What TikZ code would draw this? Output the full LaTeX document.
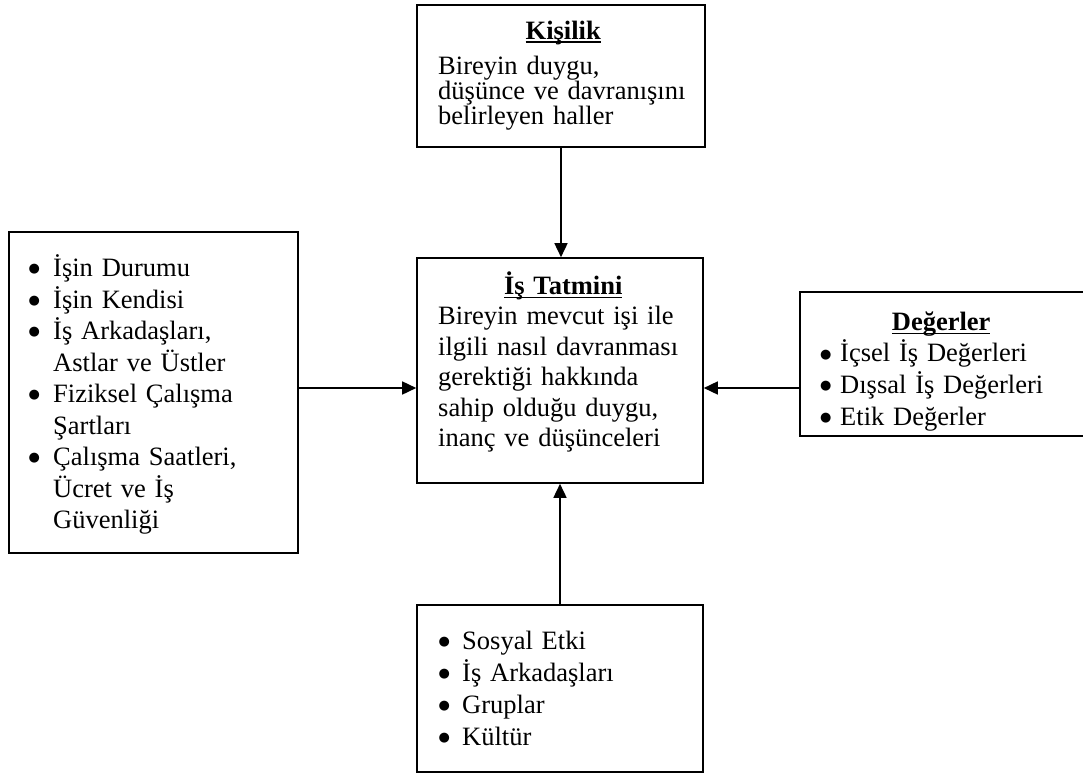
\documentclass[tikz,border=0pt]{standalone}
\usepackage{fontspec}
\setmainfont{Liberation Serif}
\newfontfamily\dejavu{DejaVu Sans}
\usetikzlibrary{arrows.meta}
\newcommand\fs{\rule{0pt}{25pt}}
\newcommand\bul{\raisebox{3.8pt}{\dejavu\fontsize{13}{13}\selectfont ●}}
\newcommand\bitem[2]{\par\noindent\hangindent=#1\hangafter=1\makebox[#1][l]{\bul}#2\par}
\newcommand\ulx[1]{\setbox0\hbox{#1}\rlap{\rule[-4pt]{\wd0}{1.7pt}}\box0}
\newcommand\ttl[1]{\noindent\makebox[\hsize]{\fs\ulx{\textbf{#1}}}\par}
\begin{document}
\begin{tikzpicture}[x=1pt,y=-1pt,
  box/.style={draw, line width=1.6pt, inner sep=0pt},
  txt/.style={inner sep=0pt, anchor=north west, align=left,
    font={\fontsize{26.5}{#1}\selectfont\lineskiplimit=-50pt\parindent=0pt\parskip=0pt}},
  arr/.style={line width=1.6pt, -{Triangle[length=14pt,width=13pt]}}]
\useasboundingbox (0,0) rectangle (1083,776);
\clip (0,0) rectangle (1083,776);
% boxes
\node[box, minimum width=288pt, minimum height=142pt] (kis) at (561,76) {};
\node[box, minimum width=286pt, minimum height=225pt] (cen) at (560,370.5) {};
\node[box, minimum width=289pt, minimum height=321pt] (lft) at (153.5,392.5) {};
\node[box, minimum width=290pt, minimum height=144pt] (rgt) at (945,364) {};
\node[box, minimum width=286pt, minimum height=167pt] (bot) at (560,688.5) {};
% texts
\node[txt=25pt, text width=250pt] (kist) at (438,14) {%
  \ttl{Kişilik}\vspace{10pt}%
  Bireyin duygu,\newline düşünce ve davranışını\newline belirleyen haller};
\node[txt=30.5pt, text width=250pt] (cent) at (438,269) {%
  \ttl{İş Tatmini}%
  Bireyin mevcut işi ile\newline ilgili nasıl davranması\newline gerektiği hakkında\newline sahip olduğu duygu,\newline inanç ve düşünceleri};
\node[txt=31.5pt, text width=260pt] (lftt) at (28.5,245) {%
  \bitem{24.5pt}{\fs İşin Durumu}%
  \bitem{24.5pt}{İşin Kendisi}%
  \bitem{24.5pt}{İş Arkadaşları,\newline Astlar ve Üstler}%
  \bitem{24.5pt}{Fiziksel Çalışma\newline Şartları}%
  \bitem{24.5pt}{Çalışma Saatleri,\newline Ücret ve İş\newline Güvenliği}};
\node[txt=31.7pt, text width=242pt] (rgtt) at (820,305) {%
  \ttl{Değerler}%
  \bitem{20pt}{İçsel İş Değerleri}%
  \bitem{20pt}{Dışsal İş Değerleri}%
  \bitem{20pt}{Etik Değerler}};
\node[txt=32pt, text width=240pt] (bott) at (438.5,617) {%
  \bitem{23.5pt}{\fs Sosyal Etki}%
  \bitem{23.5pt}{İş Arkadaşları}%
  \bitem{23.5pt}{Gruplar}%
  \bitem{23.5pt}{Kültür}};
% connectors
\draw[arr] (kis.south) -- (kis.south |- cen.north);
\draw[arr] (bot.north) -- (bot.north |- cen.south);
\draw[arr] ([yshift=4.5pt]lft.east) -- ([yshift=4.5pt]lft.east -| cen.west);
\draw[arr] ([yshift=-24pt]rgt.west) -- ([yshift=-24pt]rgt.west -| cen.east);
\end{tikzpicture}
\end{document}
